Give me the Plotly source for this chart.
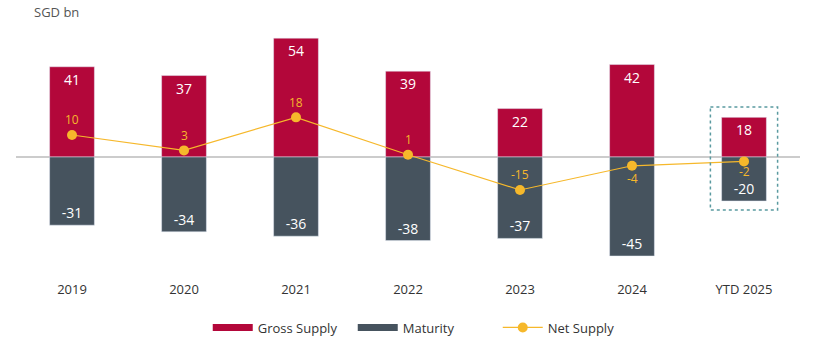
import plotly.graph_objects as go

categories = ["2019", "2020", "2021", "2022", "2023", "2024", "YTD 2025"]
gross_supply = [41, 37, 54, 39, 22, 42, 18]
maturity = [-31, -34, -36, -38, -37, -45, -20]
net_supply = [10, 3, 18, 1, -15, -4, -2]
net_label_shift = [15, 15, 15, 15, 15, -13, -10]

RED = "#B3073A"
SLATE = "#46535E"
ORANGE = "#F6B82B"
FONT = "Open Sans, Noto Sans, sans-serif"

fig = go.Figure()
fig.add_trace(go.Bar(
    x=categories, y=gross_supply, name="Gross Supply", marker_color=RED,
    text=[str(v) for v in gross_supply], textposition="inside",
    insidetextanchor="end", textfont=dict(color="white", size=14, family=FONT),
    width=0.4, showlegend=False,
))
fig.add_trace(go.Bar(
    x=categories, y=maturity, name="Maturity", marker_color=SLATE,
    text=[str(v) for v in maturity], textposition="inside",
    insidetextanchor="end", textfont=dict(color="white", size=14, family=FONT),
    width=0.4, showlegend=False,
))
fig.add_trace(go.Scatter(
    x=categories, y=net_supply, name="Net Supply", mode="lines+markers",
    line=dict(color=ORANGE, width=1.2), marker=dict(color=ORANGE, size=10),
    showlegend=False,
))
for i, (v, shift) in enumerate(zip(net_supply, net_label_shift)):
    fig.add_annotation(x=i, y=v, text=str(v), showarrow=False,
                       yshift=shift, yanchor="middle",
                       font=dict(color=ORANGE, size=12, family=FONT))

# legend entries (wide rectangle swatches like the reference)
fig.add_trace(go.Scatter(x=[None], y=[None], name="Gross Supply", mode="lines",
                         line=dict(color=RED, width=7)))
fig.add_trace(go.Scatter(x=[None], y=[None], name="Maturity", mode="lines",
                         line=dict(color=SLATE, width=7)))
fig.add_trace(go.Scatter(x=[None], y=[None], name="Net Supply", mode="lines+markers",
                         line=dict(color=ORANGE, width=1.2), marker=dict(color=ORANGE, size=10)))

fig.add_shape(type="line", xref="paper", yref="y", x0=0, x1=1, y0=0, y1=0,
              line=dict(color="#CCCCCC", width=2), layer="below")
fig.add_shape(type="rect", xref="x", yref="y", x0=5.7, x1=6.3, y0=22.7, y1=-24.1,
              line=dict(color="#5A9AA0", width=1.5, dash="dot"))

fig.add_annotation(text="SGD bn", xref="paper", yref="paper", x=0.02, y=1.07,
                   xanchor="left", yanchor="middle", showarrow=False,
                   font=dict(color="#555555", size=13, family=FONT))

fig.update_layout(
    width=820, height=350,
    margin=dict(l=16, r=20, t=30, b=70, autoexpand=False),
    barmode="relative",
    plot_bgcolor="white", paper_bgcolor="white",
    font=dict(family=FONT, color="#333333"),
    showlegend=True,
    legend=dict(orientation="h", x=0.522, xanchor="center", y=-0.13, yanchor="top",
                font=dict(size=13, color="#333333"), traceorder="normal",
                itemwidth=40, entrywidth=90),
)
fig.update_xaxes(range=[-0.5, 6.5], showgrid=False, zeroline=False, showline=False,
                 ticks="", tickfont=dict(size=13, color="#333333"))
fig.update_yaxes(range=[-55.9, 57.7], showgrid=False, zeroline=False,
                 showticklabels=False, showline=False)

fig.write_html("out.html")
